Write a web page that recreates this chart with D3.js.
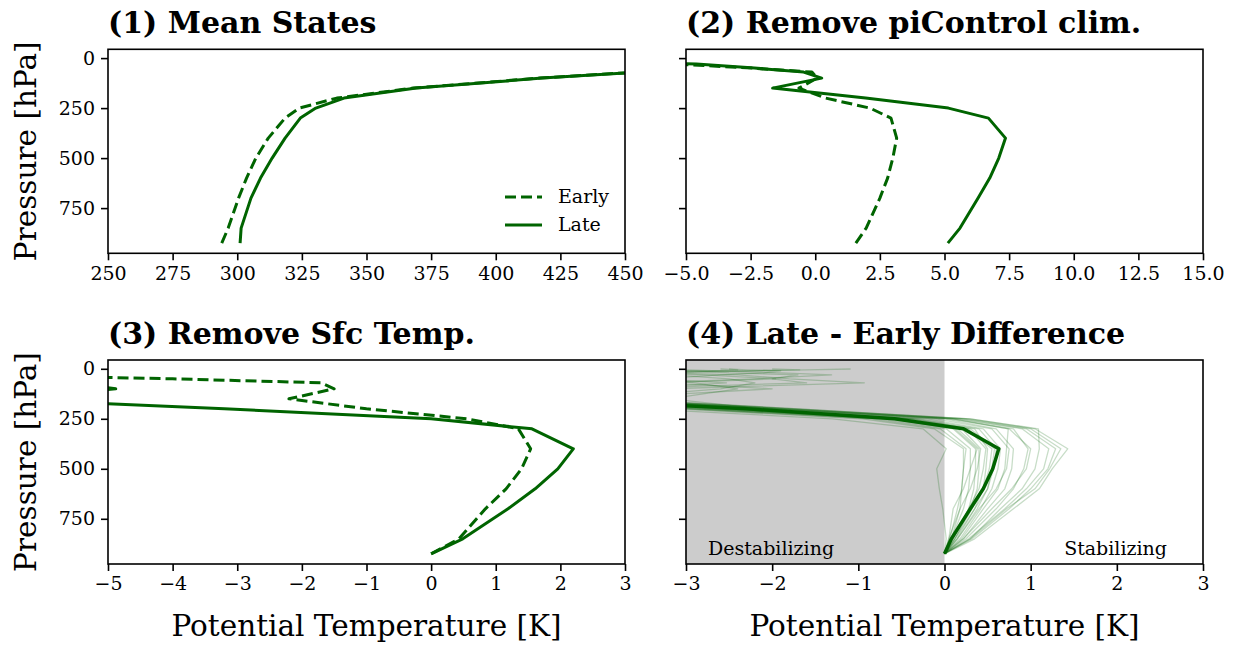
<!DOCTYPE html>
<html>
<head>
<meta charset="utf-8">
<script src="https://d3js.org/d3.v7.min.js"></script>
<style>
  body { margin: 0; background: #fff; }
  text { font-family: "DejaVu Serif", serif; fill: #000; }
</style>
</head>
<body>
<div id="chart"></div>
<script>
"use strict"
// niveis de pressao (hPa)
var niveis = [925, 850, 700, 600, 500, 400, 300, 250, 200, 150, 100, 70, 50, 30, 20, 10, 5, 1];

// (1) estados medios, temperatura potencial (K)
var meanEarly = [294.0, 296.5, 300.5, 303.6, 307.2, 312.0, 318.5, 324.0, 338.5, 368.0, 417, 455, 498, 558, 608, 695, 815, 1090];
var meanLate  = [301.1, 301.5, 305.3, 309.0, 313.5, 318.5, 324.4, 330.4, 341.3, 369.3, 418, 456, 500, 560, 610, 700, 820, 1100];

// (2) anomalia em relacao ao piControl
var piEarly = [1.57, 1.97, 2.50, 2.80, 3.00, 3.15, 2.93, 2.12, 0.40, -0.63, 0.07, -0.13, -2.43, -5.4, -7.0, -8.5, -9.5, -10.5];
var piLate  = [5.13, 5.60, 6.30, 6.75, 7.10, 7.36, 6.70, 5.15, 1.95, -1.65, 0.25, -0.45, -2.35, -4.6, -6.5, -8.0, -9.0, -10.0];

// (3) sem a temperatura de superficie
var sfcEarly = [0, 0.43, 0.84, 1.16, 1.40, 1.54, 1.35, 0.55, -1.0, -2.2, -1.5, -1.7, -4.0, -7.0, -9.0, -10.0, -11.0, -12.0];
var sfcLate  = [0, 0.49, 1.19, 1.61, 1.96, 2.20, 1.56, 0.0, -3.2, -6.8, -4.88, -5.6, -7.5, -9.7, -11.6, -13.0, -14.0, -15.0];

// (4) diferenca late - early: media e modelos individuais
var difMedia = [0, 0.08, 0.30, 0.45, 0.56, 0.63, 0.22, -0.58, -2.3, -4.6, -3.4, -3.9, -3.5, -3.2, -3.5, -4.0, -4.5, -5.0];
var difModelos = [
  [0, 0.02, -0.02, -0.06, -0.09, 0.02, -0.25, -1.3, -3.5, -5.3, -4.6, -4.4, -4.1, -4.0, -4.2, -4.6, -5.0, -5.5],
  [0, 0.06, 0.15, 0.20, 0.22, 0.22, -0.12, -0.95, -3.1, -5.0, -4.2, -3.8, -3.4, -3.6, -4.0, -4.5, -5.0, -5.5],
  [0, 0.08, 0.22, 0.28, 0.30, 0.30, 0.02, -0.75, -2.9, -4.8, -3.6, -2.53, -3.4, -3.8, -4.1, -4.5, -5.0, -5.5],
  [0, 0.10, 0.28, 0.34, 0.36, 0.36, 0.10, -0.60, -2.8, -4.6, -3.9, -3.2, -1.96, -2.8, -3.5, -4.2, -4.8, -5.3],
  [0, 0.12, 0.30, 0.38, 0.40, 0.40, 0.15, -0.50, -2.6, -4.4, -3.2, -0.93, -1.8, -2.4, -3.3, -4.0, -4.6, -5.2],
  [0, 0.05, 0.18, 0.30, 0.38, 0.42, 0.20, -0.45, -2.7, -4.7, -4.0, -3.8, -3.7, -3.6, -3.3, -2.2, -1.6, -1.09],
  [0, 0.10, 0.28, 0.40, 0.45, 0.48, 0.28, -0.40, -2.5, -4.5, -3.8, -3.4, -2.2, -1.31, -1.9, -2.6, -3.1, -3.6],
  [0, 0.14, 0.35, 0.45, 0.48, 0.50, 0.35, -0.35, -2.4, -4.6, -4.1, -3.9, -3.7, -3.5, -3.4, -2.4, -1.68, -2.0],
  [0, 0.12, 0.32, 0.45, 0.52, 0.55, 0.25, -0.55, -2.7, -4.9, -4.3, -4.0, -3.8, -3.7, -3.6, -2.78, -2.4, -2.6],
  [0, 0.15, 0.38, 0.50, 0.57, 0.60, 0.40, -0.30, -2.3, -4.2, -3.9, -3.6, -3.3, -2.6, -2.1, -1.9, -2.3, -2.5],
  [0, 0.18, 0.42, 0.55, 0.62, 0.65, 0.45, -0.20, -2.2, -4.0, -2.6, -2.2, -2.5, -3.2, -3.6, -4.0, -4.5, -5.0],
  [0, 0.20, 0.45, 0.62, 0.70, 0.72, 0.74, 0.10, -2.0, -4.3, -3.8, -1.6, -2.0, -1.7, -2.5, -2.9, -3.4, -4.0],
  [0, 0.15, 0.40, 0.60, 0.72, 0.75, 0.55, -0.10, -2.1, -3.2, -2.4, -2.9, -3.4, -3.3, -3.5, -3.9, -4.3, -4.8],
  [0, 0.22, 0.50, 0.70, 0.78, 0.80, 0.60, 0.00, -2.0, -4.1, -2.0, -3.3, -3.3, -3.4, -3.6, -4.0, -4.4, -4.9],
  [0, 0.25, 0.60, 0.80, 0.92, 0.97, 0.80, 0.10, -1.9, -4.0, -3.5, -3.3, -3.2, -3.5, -3.8, -4.2, -4.6, -5.0],
  [0, 0.22, 0.55, 0.78, 0.95, 1.00, 0.75, 0.05, -2.0, -4.2, -3.7, -3.5, -3.6, -3.7, -3.9, -4.3, -4.7, -5.1],
  [0, 0.30, 0.65, 0.90, 1.05, 1.10, 1.09, 0.30, -1.8, -3.9, -3.4, -3.2, -3.3, -3.5, -3.7, -4.1, -4.5, -5.0],
  [0, 0.28, 0.70, 0.95, 1.15, 1.21, 0.90, 0.15, -1.9, -4.1, -3.6, -3.4, -3.5, -3.6, -3.8, -4.2, -4.6, -5.0],
  [0, 0.32, 0.75, 1.00, 1.20, 1.29, 0.95, 0.20, -1.8, -4.0, -3.5, -3.3, -3.4, -3.6, -3.9, -4.3, -4.7, -5.1],
  [0, 0.30, 0.72, 1.05, 1.22, 1.35, 1.00, 0.25, -1.7, -3.9, -3.4, -3.3, -3.4, -3.7, -4.0, -4.4, -4.8, -5.2],
  [0, 0.35, 0.80, 1.10, 1.25, 1.43, 1.05, 0.30, -1.7, -3.8, -3.5, -3.3, -3.5, -3.8, -4.1, -4.5, -4.9, -5.3],
  [0, 0.05, 0.10, 0.22, 0.30, 0.38, 0.12, -0.65, -2.9, -4.9, -4.4, -4.1, -3.9, -3.8, -4.0, -4.4, -4.8, -5.2],
  [0, 0.08, 0.18, 0.20, 0.22, 0.25, -0.05, -0.85, -3.0, -5.1, -4.5, -4.2, -4.0, -3.9, -4.1, -4.5, -4.9, -5.3],
  [0, 0.12, 0.35, 0.50, 0.55, 0.58, 0.30, -0.40, -2.5, -4.6, -4.0, -3.7, -3.5, -3.4, -3.6, -4.0, -4.4, -4.9]
];

// marcas dos eixos
var ticksP  = [0, 250, 500, 750];
var ticks1  = [250, 275, 300, 325, 350, 375, 400, 425, 450];
var ticks2  = [-5, -2.5, 0, 2.5, 5, 7.5, 10, 12.5, 15];
var ticks3  = [-5, -4, -3, -2, -1, 0, 1, 2, 3];
var ticks4  = [-3, -2, -1, 0, 1, 2, 3];

var verde = '#006400';
var largura = 517, altura = 204;
var fonteTick = '19px', fonteRotulo = '29.5px', fonteTitulo = '30px';

var svg = d3.select('#chart').append('svg')
    .attr('width', 1234).attr('height', 645);

var paineis = [
  {x0: 108, y0: 49.3, dom: [250, 450], ticks: ticks1, fmt: d3.format('d'), titulo: '(1) Mean States', ylab: true},
  {x0: 686, y0: 49.3, dom: [-5, 15], ticks: ticks2, fmt: d3.format('.1f'), titulo: '(2) Remove piControl clim.', ylab: false},
  {x0: 108, y0: 360, dom: [-5, 3], ticks: ticks3, fmt: d3.format('d'), titulo: '(3) Remove Sfc Temp.', ylab: true},
  {x0: 686, y0: 360, dom: [-3, 3], ticks: ticks4, fmt: d3.format('d'), titulo: '(4) Late - Early Difference', ylab: false}
];

function serie(vals) {
  return vals.map(function(v, i) { return [v, niveis[i]]; });
}

paineis.forEach(function(p, k) {
  var g = svg.append('g').attr('transform', 'translate(' + p.x0 + ',' + p.y0 + ')');
  var x = d3.scaleLinear().domain(p.dom).range([0, largura]);
  var y = d3.scaleLinear().domain([-44, 976]).range([0, altura]);
  var linha = d3.line().x(function(d) { return x(d[0]); }).y(function(d) { return y(d[1]); });

  g.append('clipPath').attr('id', 'clip' + k)
    .append('rect').attr('width', largura).attr('height', altura);
  var area = g.append('g').attr('clip-path', 'url(#clip' + k + ')');

  function desenha(vals, dash, lw, op) {
    area.append('path')
      .attr('d', linha(serie(vals)))
      .attr('fill', 'none')
      .attr('stroke', verde)
      .attr('stroke-width', lw)
      .attr('stroke-opacity', op)
      .attr('stroke-linejoin', 'round')
      .attr('stroke-dasharray', dash ? '11,5' : null);
  }

  if (k == 0) { desenha(meanEarly, true, 3, 1); desenha(meanLate, false, 3, 1); }
  if (k == 1) { desenha(piEarly, true, 3, 1); desenha(piLate, false, 3, 1); }
  if (k == 2) { desenha(sfcEarly, true, 3, 1); desenha(sfcLate, false, 3, 1); }
  if (k == 3) {
    area.insert('rect', ':first-child')
      .attr('x', x(-3)).attr('width', x(0) - x(-3))
      .attr('y', 0).attr('height', altura)
      .attr('fill', '#cccccc');
    difModelos.forEach(function(m) { desenha(m, false, 1.3, 0.22); });
    desenha(difMedia, false, 3.5, 1);
  }

  // eixos
  var ax = g.append('g').attr('transform', 'translate(0,' + altura + ')')
    .call(d3.axisBottom(x).tickValues(p.ticks).tickFormat(p.fmt).tickSize(7).tickPadding(6));
  var ay = g.append('g')
    .call(d3.axisLeft(y).tickValues(ticksP).tickFormat(p.ylab ? d3.format('d') : '').tickSize(7).tickPadding(6));
  [ax, ay].forEach(function(a) {
    a.select('.domain').remove();
    a.selectAll('line').attr('stroke', '#000').attr('stroke-width', 1.6);
    a.selectAll('text').style('font-family', '"DejaVu Serif", serif').style('font-size', fonteTick).attr('fill', '#000');
  });

  g.append('rect').attr('width', largura).attr('height', altura)
    .attr('fill', 'none').attr('stroke', '#000').attr('stroke-width', 1.6);

  g.append('text').attr('x', 0).attr('y', -16.5)
    .style('font-size', fonteTitulo).style('font-weight', 'bold')
    .text(p.titulo);

  if (p.ylab) {
    g.append('text')
      .attr('transform', 'translate(' + (36 - p.x0) + ',' + (altura / 2) + ') rotate(-90)')
      .attr('text-anchor', 'middle')
      .style('font-size', fonteRotulo)
      .text('Pressure [hPa]');
  }
  if (k >= 2) {
    g.append('text').attr('x', largura / 2).attr('y', altura + 72)
      .attr('text-anchor', 'middle').style('font-size', fonteRotulo)
      .text('Potential Temperature [K]');
  }

  // legenda do painel 1
  if (k == 0) {
    var leg = [{nome: 'Early', dash: true, yy: 147.7}, {nome: 'Late', dash: false, yy: 175.7}];
    leg.forEach(function(l) {
      g.append('line').attr('x1', 397).attr('x2', 434).attr('y1', l.yy).attr('y2', l.yy)
        .attr('stroke', verde).attr('stroke-width', 3)
        .attr('stroke-dasharray', l.dash ? '11,5' : null);
      g.append('text').attr('x', 450).attr('y', l.yy + 6.5).style('font-size', fonteTick).text(l.nome);
    });
  }
  if (k == 3) {
    g.append('text').attr('x', 22).attr('y', 195).style('font-size', fonteTick).text('Destabilizing');
    g.append('text').attr('x', 481).attr('y', 195).attr('text-anchor', 'end').style('font-size', fonteTick).text('Stabilizing');
  }
});
</script>
</body>
</html>
